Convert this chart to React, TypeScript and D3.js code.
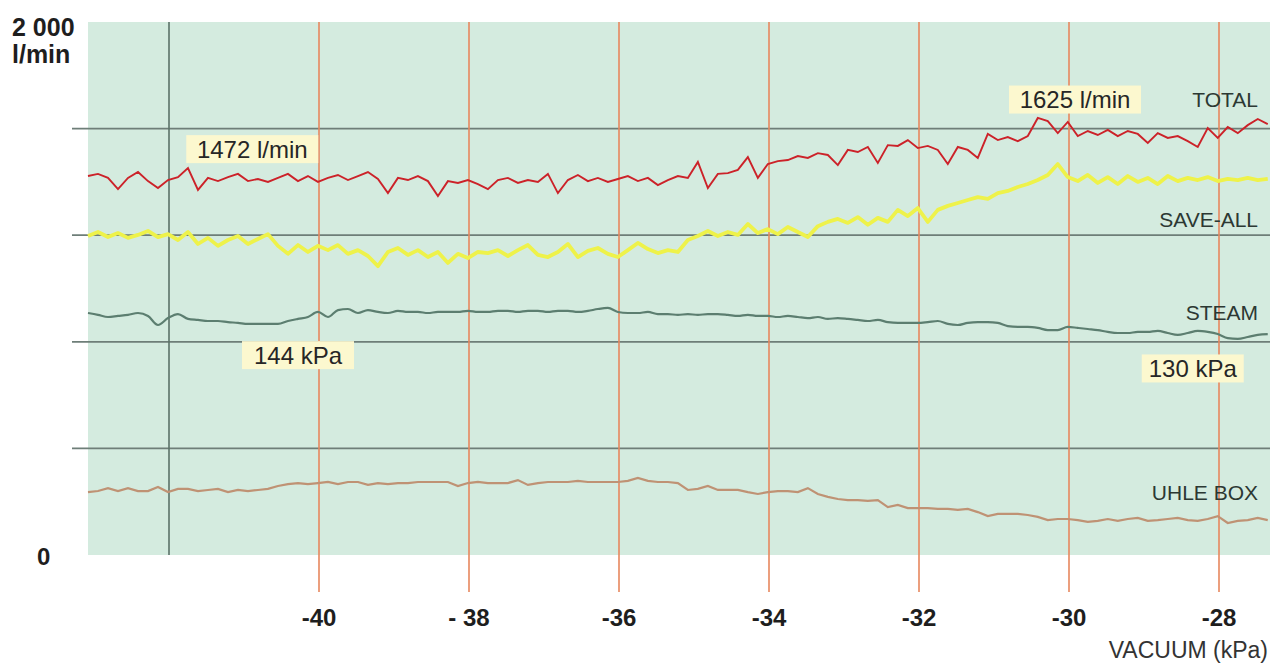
import React from "react";
import * as d3 from "d3";

// Flow traces (l/min), recorded at an even rate over the vacuum sweep
const traceStart = -43.08;
const traceEnd = -27.35;

const totalFlow = [
	1422, 1430, 1415, 1373, 1415, 1437, 1403, 1377, 1407, 1418,
	1452, 1370, 1415, 1403, 1418, 1430, 1403, 1411, 1400, 1415,
	1430, 1403, 1422, 1400, 1415, 1426, 1407, 1422, 1437, 1411,
	1358, 1415, 1407, 1422, 1403, 1347, 1403, 1396, 1407, 1392,
	1373, 1407, 1415, 1396, 1407, 1400, 1430, 1358, 1407, 1426,
	1403, 1415, 1400, 1411, 1422, 1403, 1415, 1388, 1407, 1422,
	1415, 1475, 1377, 1430, 1433, 1445, 1493, 1415, 1467, 1478,
	1482, 1497, 1490, 1508, 1501, 1463, 1520, 1512, 1531, 1471,
	1538, 1535, 1557, 1527, 1535, 1520, 1467, 1531, 1520, 1490,
	1580, 1557, 1568, 1553, 1572, 1640, 1628, 1583, 1625, 1572,
	1591, 1576, 1595, 1572, 1591, 1580, 1546, 1583, 1565, 1572,
	1553, 1531, 1602, 1565, 1606, 1583, 1613, 1636, 1617,
];

const saveAllFlow = [
	1197, 1212, 1193, 1208, 1190, 1201, 1216, 1193, 1204, 1182,
	1212, 1167, 1190, 1160, 1182, 1197, 1167, 1186, 1204, 1160,
	1130, 1163, 1137, 1160, 1144, 1163, 1130, 1144, 1122, 1084,
	1137, 1152, 1126, 1144, 1118, 1137, 1096, 1130, 1114, 1137,
	1133, 1144, 1122, 1144, 1163, 1126, 1118, 1137, 1167, 1118,
	1141, 1152, 1130, 1118, 1144, 1171, 1148, 1133, 1144, 1137,
	1182, 1197, 1216, 1197, 1212, 1201, 1242, 1208, 1223, 1204,
	1231, 1212, 1193, 1234, 1250, 1261, 1246, 1268, 1239, 1265,
	1250, 1295, 1272, 1302, 1250, 1295, 1310, 1321, 1332, 1343,
	1336, 1358, 1366, 1381, 1392, 1407, 1426, 1467, 1418, 1403,
	1426, 1396, 1418, 1392, 1422, 1400, 1415, 1392, 1422, 1403,
	1415, 1407, 1418, 1403, 1411, 1407, 1415, 1407, 1411,
];

const steamFlow = [
	908, 901, 893, 897, 901, 908, 897, 863, 889, 904,
	886, 882, 878, 878, 874, 871, 867, 867, 867, 867,
	878, 886, 893, 912, 893, 919, 923, 908, 919, 912,
	908, 916, 912, 912, 908, 912, 912, 912, 916, 912,
	912, 916, 916, 912, 916, 916, 912, 916, 916, 912,
	916, 923, 927, 912, 908, 908, 912, 904, 904, 901,
	904, 901, 904, 904, 901, 897, 901, 897, 897, 893,
	897, 893, 889, 893, 886, 889, 886, 882, 878, 882,
	874, 871, 871, 871, 874, 878, 867, 863, 871, 874,
	874, 871, 859, 856, 856, 852, 844, 844, 856, 852,
	848, 844, 837, 833, 833, 837, 837, 841, 833, 826,
	833, 841, 837, 829, 814, 811, 818, 826, 829,
];

const uhleBoxFlow = [
	236, 240, 251, 240, 251, 240, 240, 255, 236, 248,
	248, 240, 244, 248, 236, 244, 240, 244, 248, 259,
	266, 270, 266, 270, 274, 266, 274, 274, 263, 270,
	266, 270, 270, 274, 274, 274, 274, 259, 270, 274,
	270, 270, 270, 281, 263, 270, 274, 274, 274, 278,
	274, 274, 274, 274, 278, 289, 278, 274, 274, 270,
	244, 248, 259, 244, 244, 244, 236, 229, 236, 240,
	240, 236, 251, 229, 218, 210, 206, 206, 203, 206,
	180, 188, 176, 176, 176, 173, 173, 169, 173, 161,
	146, 154, 154, 154, 150, 143, 131, 135, 135, 131,
	124, 128, 135, 128, 135, 139, 128, 131, 135, 139,
	131, 128, 135, 146, 120, 128, 131, 139, 131,
];

const seriesNames = ["TOTAL", "SAVE-ALL", "STEAM", "UHLE BOX"];
const seriesLabelAt = [1681, 1231, 882, 206]; // l/min, baseline of right-hand labels

const vacuumTicks = [-40, -38, -36, -34, -32, -30, -28];
const vacuumTickLabels = ["-40", "- 38", "-36", "-34", "-32", "-30", "-28"];
const refVacuum = -42;
const flowGrid = [400, 800, 1200, 1600];

const noteTexts = ["1472 l/min", "1625 l/min", "144 kPa", "130 kPa"];
const noteVacuum = [-40.89, -29.92, -40.28, -28.35];
const noteFlow = [1523, 1709, 750, 700];

const W = 1270;
const H = 664;
const FONT = "'Liberation Sans', Arial, sans-serif";

const App = () => {
	const x = d3.scaleLinear().domain([-43.08, -27.32]).range([88, 1270]);
	const y = d3.scaleLinear().domain([0, 2000]).range([555, 22]);

	const trace = (vals: number[], curve = d3.curveLinear) => {
		const idx = d3.scaleLinear().domain([0, vals.length - 1]).range([traceStart, traceEnd]);
		return d3
			.line<number>()
			.x((_, i) => x(idx(i)))
			.y((d) => y(d))
			.curve(curve)(vals) as string;
	};

	const noteW = [132, 132, 112, 102];

	return (
		<svg
			width={W}
			height={H}
			style={{ position: "absolute", left: 0, top: 0, background: "#fff" }}
			fontFamily={FONT}>
			<rect x={x(-43.08)} y={y(2000)} width={W - x(-43.08)} height={y(0) - y(2000)} fill="#d4ebdf" />

			{flowGrid.map((v) => (
				<line key={v} x1={72} x2={W} y1={y(v)} y2={y(v)} stroke="#6e7e78" strokeWidth={1.8} />
			))}

			<line x1={x(refVacuum)} x2={x(refVacuum)} y1={y(2000)} y2={y(0)} stroke="#5b7268" strokeWidth={1.6} />
			{vacuumTicks.map((t) => (
				<line key={t} x1={x(t)} x2={x(t)} y1={y(2000)} y2={592} stroke="#e7875e" strokeWidth={1.6} />
			))}

			<path d={trace(uhleBoxFlow)} fill="none" stroke="#bf9274" strokeWidth={2.2} />
			<path d={trace(steamFlow, d3.curveMonotoneX)} fill="none" stroke="#5c7e70" strokeWidth={2.2} />
			<path d={trace(saveAllFlow)} fill="none" stroke="#eef24a" strokeWidth={3.8} strokeLinejoin="round" />
			<path d={trace(totalFlow)} fill="none" stroke="#cc2229" strokeWidth={1.9} />

			{seriesNames.map((s, i) => (
				<text key={s} x={1258} y={y(seriesLabelAt[i])} textAnchor="end" fontSize={21} fill="#2c3833">
					{s}
				</text>
			))}

			{noteTexts.map((t, i) => (
				<g key={t} transform={`translate(${x(noteVacuum[i])},${y(noteFlow[i])})`}>
					<rect x={-noteW[i] / 2} y={-14} width={noteW[i]} height={28} fill="#fcf8cf" />
					<text textAnchor="middle" dy="0.36em" fontSize={24} fill="#262626">
						{t}
					</text>
				</g>
			))}

			{vacuumTicks.map((t, i) => (
				<text key={t} x={x(t)} y={626} textAnchor="middle" fontSize={24} fontWeight="bold" fill="#1e1e1e">
					{vacuumTickLabels[i]}
				</text>
			))}

			<text x={12} y={36} fontSize={25} fontWeight="bold" fill="#1e1e1e">2 000</text>
			<text x={12} y={63} fontSize={25} fontWeight="bold" fill="#1e1e1e">l/min</text>
			<text x={37} y={565} fontSize={24} fontWeight="bold" fill="#1e1e1e">0</text>
			<text x={1268} y={658} textAnchor="end" fontSize={23} fill="#333">VACUUM (kPa)</text>
		</svg>
	);
};

export default App;
